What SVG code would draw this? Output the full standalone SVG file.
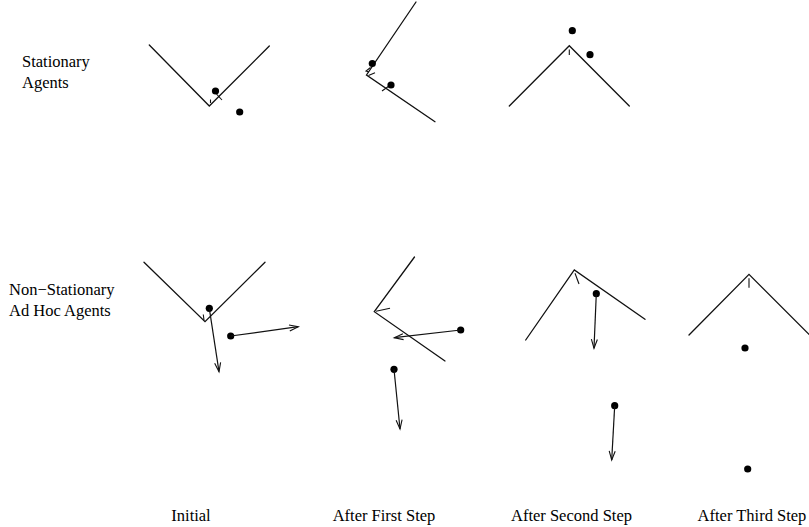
<svg xmlns="http://www.w3.org/2000/svg" width="809" height="527" viewBox="0 0 809 527">
<defs>
<style>
.ln{fill:none;stroke:#111;stroke-width:1.3;stroke-linecap:round;stroke-linejoin:miter}
.tk{fill:none;stroke:#111;stroke-width:1.1}
.ar{fill:none;stroke:#111;stroke-width:1.2;marker-end:url(#ah)}
.dot{fill:#000}
text{font-family:"Liberation Serif","Times New Roman",serif;font-size:16.5px;fill:#000}
</style>
<marker id="ah" markerUnits="userSpaceOnUse" markerWidth="12" markerHeight="10" refX="10" refY="4" orient="auto" viewBox="0 0 12 8">
<path d="M1,1 L10,4 L1,7" fill="none" stroke="#111" stroke-width="1.1"/>
</marker>
</defs>
<rect width="809" height="527" fill="#fff"/>
<g id="labels">
<text x="22" y="66.5">Stationary</text>
<text x="22" y="87.5">Agents</text>
<text x="9" y="295">Non−Stationary</text>
<text x="9" y="316">Ad Hoc Agents</text>
<text x="191" y="521" text-anchor="middle">Initial</text>
<text x="384" y="521" text-anchor="middle">After First Step</text>
<text x="571.5" y="521" text-anchor="middle">After Second Step</text>
<text x="752" y="521" text-anchor="middle">After Third Step</text>
</g>
<g id="s-initial">
<polyline class="ln" points="149.3,45 209.3,106 269.3,46"/>
<line class="tk" x1="210.5" y1="99.5" x2="210.5" y2="103"/>
<line class="tk" x1="216.5" y1="94" x2="222" y2="100"/>
<circle class="dot" cx="215.5" cy="91" r="3.6"/>
<circle class="dot" cx="239.7" cy="112" r="3.6"/>
</g>
<g id="s-first">
<polyline class="ln" points="416,2 366.5,75 435,121.7"/>
<polyline class="tk" points="370.5,67.5 366,71 369,72"/>
<line class="tk" x1="368.5" y1="75.5" x2="375" y2="72.8"/>
<line class="tk" x1="382" y1="91" x2="389" y2="86"/>
<circle class="dot" cx="372.3" cy="63.5" r="3.6"/>
<circle class="dot" cx="391" cy="85" r="3.6"/>
</g>
<g id="s-second">
<polyline class="ln" points="509.3,106 569.3,45.7 629.3,106"/>
<line class="tk" x1="569.3" y1="49.5" x2="569.3" y2="55"/>
<circle class="dot" cx="572.3" cy="30.7" r="3.6"/>
<circle class="dot" cx="590" cy="54.7" r="3.6"/>
</g>
<g id="n-initial">
<polyline class="ln" points="144,262.3 205,321.7 265,262.3"/>
<line class="tk" x1="203.3" y1="314.5" x2="204" y2="320.5"/>
<circle class="dot" cx="209.3" cy="308.3" r="3.6"/>
<circle class="dot" cx="230.7" cy="336" r="3.6"/>
</g>
<g id="n-first">
<polyline class="ln" points="414.5,257 374.3,311.7 445,361"/>
<line class="tk" x1="376" y1="311.3" x2="390" y2="308.3"/>
<circle class="dot" cx="460.7" cy="330" r="3.6"/>
<circle class="dot" cx="394" cy="369.3" r="3.6"/>
</g>
<g id="n-second">
<polyline class="ln" points="525.7,340 574.3,270 645,319.3"/>
<line class="tk" x1="575" y1="273.3" x2="579" y2="284"/>
<circle class="dot" cx="596.3" cy="293.7" r="3.6"/>
<circle class="dot" cx="614.7" cy="405.7" r="3.6"/>
</g>
<g id="n-third">
<polyline class="ln" points="689,335 749,274.3 809,334.3"/>
<line class="tk" x1="749" y1="278.3" x2="749" y2="287.7"/>
<circle class="dot" cx="745" cy="348" r="3.6"/>
<circle class="dot" cx="747.7" cy="469" r="3.6"/>
</g>
<g id="connectors">
<line class="ar" x1="209.3" y1="308.3" x2="219" y2="371.7"/>
<line class="ar" x1="230.7" y1="336" x2="298.3" y2="326.7"/>
<line class="ar" x1="460.7" y1="330" x2="394.3" y2="337.7"/>
<line class="ar" x1="394" y1="369.3" x2="400" y2="429"/>
<line class="ar" x1="596.3" y1="293.7" x2="594" y2="348.3"/>
<line class="ar" x1="614.7" y1="405.7" x2="611.7" y2="460"/>
</g>
</svg>
